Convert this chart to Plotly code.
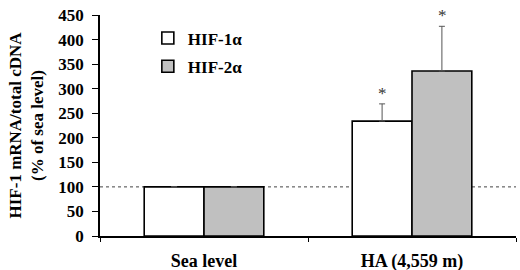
import plotly.graph_objects as go

categories = ["Sea level", "HA (4,559 m)"]
hif1_values = [100, 234]
hif1_err = [0, 35]
hif2_values = [100, 336]
hif2_err = [0, 91]
sig1 = ["", "*"]
sig2 = ["", "*"]
y_ticks = [0, 50, 100, 150, 200, 250, 300, 350, 400, 450]

FONT = "Liberation Serif"

fig = go.Figure()
fig.add_trace(go.Bar(
    name="<b>HIF-1α</b>", x=categories, y=hif1_values, legendgroup="a",
    marker=dict(color="white", line=dict(color="black", width=1.6)),
    error_y=dict(type="data", array=hif1_err, arrayminus=[0, 0], symmetric=False,
                 color="#555555", thickness=1, width=3),
))
fig.add_trace(go.Bar(
    name="<b>HIF-2α</b>", x=categories, y=hif2_values, legendgroup="b",
    marker=dict(color="#c0c0c0", line=dict(color="black", width=1.6)),
    error_y=dict(type="data", array=hif2_err, arrayminus=[0, 0], symmetric=False,
                 color="#555555", thickness=1, width=3),
))

# reference line at sea level
fig.add_hline(y=100, line=dict(color="#444444", width=1, dash="dot"), layer="below")

# significance marks
for vals, errs, sigs, shift in [(hif1_values, hif1_err, sig1, -30), (hif2_values, hif2_err, sig2, 30)]:
    for c, v, e, s in zip(categories, vals, errs, sigs):
        if s:
            fig.add_annotation(x=c, y=v + e, text=s, showarrow=False, xshift=shift,
                               yanchor="bottom", yshift=-1,
                               font=dict(family=FONT, size=17, color="#333333"))

fig.update_layout(
    width=520, height=270,
    margin=dict(l=100, r=4, t=15, b=34),
    paper_bgcolor="white", plot_bgcolor="white",
    barmode="group", bargap=0.425, bargroupgap=0,
    font=dict(family=FONT, color="black"),
    legend=dict(x=0.115, y=0.975, xanchor="left", yanchor="top",
                font=dict(family=FONT, size=17, color="black"),
                bgcolor="rgba(0,0,0,0)", itemwidth=30, tracegroupgap=3),
    showlegend=True,
)
fig.update_xaxes(
    showline=True, linecolor="black", linewidth=1.5,
    ticks="outside", tickson="boundaries", ticklen=4, tickcolor="black",
    tickfont=dict(family=FONT, size=18, color="black"),
    ticktext=["<b>" + c + "</b>" for c in categories], tickvals=categories,
    ticklabelstandoff=8,
    showgrid=False, automargin=False,
)
fig.update_yaxes(
    range=[0, 450], tickvals=y_ticks, ticktext=["<b>%d</b>" % v for v in y_ticks],
    showline=True, linecolor="black", linewidth=1.5,
    ticks="outside", ticklen=6, tickcolor="black",
    tickfont=dict(family=FONT, size=17, color="black"),
    ticklabeloverflow="allow", ticklabelstandoff=5,
    showgrid=False, zeroline=False, automargin=False,
    title=dict(text="<b>HIF-1 mRNA/total cDNA<br>(% of sea level)</b>", standoff=10,
               font=dict(family=FONT, size=17, color="black")),
)

# remove the default page margin so the figure fills the 520x270 window
fig.write_html("out.html", config={"displayModeBar": False},
               post_script="document.body.style.margin='0';")
